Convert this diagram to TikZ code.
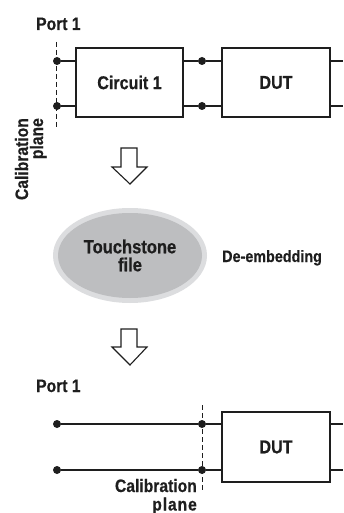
\documentclass[tikz,border=0pt]{standalone}
\usepackage{fontspec}
\setmainfont{Liberation Sans}[FakeStretch=0.87, BoldFeatures={FakeBold=0.6}]
\usetikzlibrary{shapes.geometric}
\definecolor{ring}{HTML}{DCDDDF}
\definecolor{core}{HTML}{BDBEC0}
\definecolor{ink}{HTML}{1E1E1E}
\begin{document}
\begin{tikzpicture}[x=1pt,y=-1pt,
  lbl/.style={inner sep=0pt, text=ink, font=\bfseries\fontsize{18}{15}\selectfont},
  box/.style={draw=ink, line width=1.9pt, inner sep=0pt, text=ink,
              font=\bfseries\fontsize{18.5}{15}\selectfont,
              minimum width=107pt, minimum height=69pt},
  wire/.style={draw=ink, line width=1.1pt},
  dot/.style={circle, fill=ink, inner sep=0pt, minimum size=8pt},
  calplane/.style={draw=ink, line width=0.8pt, dash pattern=on 5pt off 3pt},
  hollow/.style={draw=ink, line width=1.1pt, fill=white, line join=miter}]
\useasboundingbox (0,0) rectangle (343,513);

% ---------- top ----------
\node[lbl, anchor=base west] (port1a) at (36,30) {Port 1};
\coordinate (pa1) at (56,42);
\coordinate (pa2) at (56,127);
\draw[calplane] (pa1) -- (pa2);
\node[lbl, anchor=base east, rotate=90] (cala) at (28,118) {Calibration};
\node[lbl, anchor=base east, rotate=90] (plna) at (43,118) {plane};

\node[box] (c1) at (129.5,82.5) {Circuit 1};
\node[box, minimum width=108pt] (dut1) at (276,82.5) {DUT};

\node[dot] (d1) at (57,61) {};
\node[dot] (d2) at (57,106) {};
\node[dot] (d3) at (202,61) {};
\node[dot] (d4) at (202,106) {};
\coordinate (e1) at (343,61);
\coordinate (e2) at (343,106);

\draw[wire] (d1) -- (d1 -| c1.west);
\draw[wire] (d2) -- (d2 -| c1.west);
\draw[wire] (c1.east |- d3) -- (d3) -- (d3 -| dut1.west);
\draw[wire] (c1.east |- d4) -- (d4) -- (d4 -| dut1.west);
\draw[wire] (dut1.east |- e1) -- (e1);
\draw[wire] (dut1.east |- e2) -- (e2);

% ---------- arrow 1 ----------
\draw[hollow] (121,148) -- (137,148) -- (137,167) -- (147,167) -- (130,184)
  -- (112,167) -- (121,167) -- cycle;

% ---------- Touchstone ----------
\node[ellipse, fill=ring, inner sep=0pt, minimum width=154pt, minimum height=95pt]
  (tsring) at (130,255.5) {};
\node[ellipse, fill=core, inner sep=0pt, minimum width=144pt, minimum height=85pt,
  align=center, text=ink, font=\bfseries\fontsize{19}{18}\selectfont]
  (ts) at (130,255.5) {Touchstone\\file};
\node[lbl, anchor=base west, font=\bfseries\fontsize{16.5}{15}\selectfont]
  (deemb) at (222,262) {De-embedding};

% ---------- arrow 2 ----------
\draw[hollow] (121,329) -- (137,329) -- (137,347) -- (147,347) -- (130,365)
  -- (112,347) -- (121,347) -- cycle;

% ---------- bottom ----------
\node[lbl, anchor=base west] (port1b) at (36,392) {Port 1};
\node[box, minimum width=108pt, minimum height=70pt] (dut2) at (276,447) {DUT};
\node[dot] (d5) at (57,424) {};
\node[dot] (d6) at (57,470) {};
\node[dot] (d7) at (202,424) {};
\node[dot] (d8) at (202,470) {};
\coordinate (e3) at (343,424);
\coordinate (e4) at (343,470);
\draw[wire] (d5) -- (d7) -- (d7 -| dut2.west);
\draw[wire] (d6) -- (d8) -- (d8 -| dut2.west);
\draw[wire] (dut2.east |- e3) -- (e3);
\draw[wire] (dut2.east |- e4) -- (e4);
\coordinate (pb1) at (202,405);
\coordinate (pb2) at (202,492);
\draw[calplane] (pb1) -- (pb2);
\node[lbl, anchor=base east] (calb) at (197,492) {Calibration};
\node[lbl, anchor=base east] (plnb) at (197,510.5) {\addfontfeature{LetterSpace=5}plane};
\end{tikzpicture}
\end{document}
